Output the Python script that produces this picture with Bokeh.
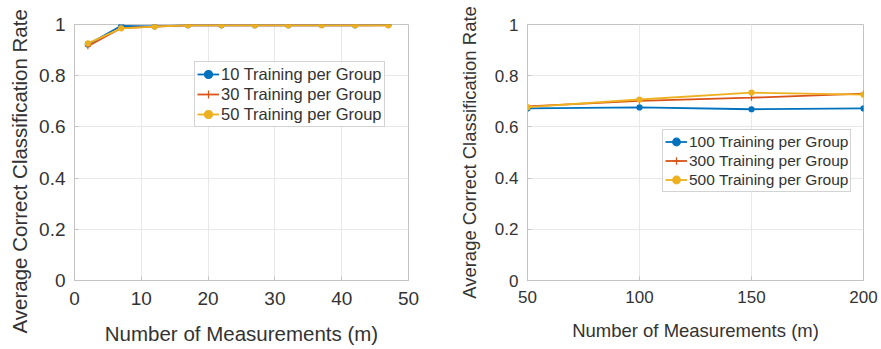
from bokeh.plotting import figure
from bokeh.layouts import row
from bokeh.models import Range1d, FixedTicker, Legend, LegendItem, Title
from bokeh.embed import file_html
from bokeh.resources import INLINE

# Left panel: small training sets, m = 2..47
m_small = [2, 7, 12, 17, 22, 27, 32, 37, 42, 47]
rate_10 = [0.922, 0.995, 0.993, 0.997, 0.997, 0.997, 0.997, 0.998, 0.997, 0.998]
rate_30 = [0.915, 0.986, 0.992, 0.997, 0.997, 0.997, 0.997, 0.997, 0.997, 0.997]
rate_50 = [0.926, 0.985, 0.992, 0.997, 0.997, 0.997, 0.997, 0.997, 0.997, 0.997]
labels_small = ["10 Training per Group", "30 Training per Group", "50 Training per Group"]

# Right panel: large training sets, m = 50..200
m_large = [50, 100, 150, 200]
rate_100 = [0.672, 0.676, 0.669, 0.672]
rate_300 = [0.680, 0.702, 0.714, 0.730]
rate_500 = [0.677, 0.707, 0.734, 0.726]
labels_large = ["100 Training per Group", "300 Training per Group", "500 Training per Group"]

y_ticks = [0, 0.2, 0.4, 0.6, 0.8, 1]
y_tick_labels = ["0", "0.2", "0.4", "0.6", "0.8", "1"]
x_ticks_small = [0, 10, 20, 30, 40, 50]
x_ticks_large = [50, 100, 150, 200]
x_title = "Number of Measurements (m)"
y_title = "Average Correct Classification Rate"

COLORS = ["#0072BD", "#D95319", "#EDB120"]
MARKERS = ["circle", "cross", "circle"]
FONT = "Liberation Sans"
TEXT = "#333333"
AXIS = "#c4c4c4"


def make_panel(xs, series, labels, x_range, x_ticks, width, borders,
               tick_size, label_size, legend_size, legend_loc, row_h,
               x_label_standoff, y_label_standoff, y_title_offset=None):
    left, right, top, bottom = borders
    p = figure(width=width, height=349, output_backend="svg", toolbar_location=None,
               x_range=Range1d(*x_range), y_range=Range1d(0, 1),
               min_border_left=left, min_border_right=right,
               min_border_top=top, min_border_bottom=bottom)
    p.background_fill_color = "white"
    p.border_fill_color = "white"
    p.outline_line_color = AXIS
    p.outline_line_width = 1

    p.xaxis.ticker = FixedTicker(ticks=x_ticks)
    p.yaxis.ticker = FixedTicker(ticks=y_ticks)
    p.yaxis.major_label_overrides = {t: s for t, s in zip(y_ticks, y_tick_labels)}
    p.xaxis.axis_label = x_title
    if y_title_offset is None:
        p.yaxis.axis_label = y_title

    for ax in (p.xaxis[0], p.yaxis[0]):
        ax.axis_line_color = AXIS
        ax.major_tick_line_color = AXIS
        ax.major_tick_in = 4
        ax.major_tick_out = 0
        ax.minor_tick_line_color = None
        ax.major_label_text_font = FONT
        ax.major_label_text_font_size = tick_size
        ax.major_label_text_color = TEXT
        ax.axis_label_text_font = FONT
        ax.axis_label_text_font_size = label_size
        ax.axis_label_text_color = TEXT
        ax.axis_label_text_font_style = "normal"
    p.xaxis.major_label_standoff = x_label_standoff[0]
    p.xaxis.axis_label_standoff = x_label_standoff[1]
    p.yaxis.major_label_standoff = y_label_standoff[0]
    p.yaxis.axis_label_standoff = y_label_standoff[1]

    # vertical title drawn as a side title so it can start below the frame
    if y_title_offset is not None:
        p.add_layout(Title(text=y_title, align="left", offset=y_title_offset,
                           text_font=FONT, text_font_size=label_size,
                           text_font_style="normal", text_color=TEXT,
                           standoff=y_label_standoff[1]), "left")

    p.xgrid.grid_line_color = "#e8e8e8"
    p.ygrid.grid_line_color = "#e8e8e8"

    items = []
    for ys, color, marker, label in zip(series, COLORS, MARKERS, labels):
        ln = p.line(xs, ys, line_color=color, line_width=1.8)
        sc = p.scatter(xs, ys, marker=marker, size=6 if marker == "cross" else 5,
                       fill_color=color, line_color=color, line_width=1.2)
        items.append(LegendItem(label=label, renderers=[ln, sc]))

    legend = Legend(items=items, location=legend_loc)
    legend.label_text_font = FONT
    legend.label_text_font_size = legend_size
    legend.label_text_color = TEXT
    legend.border_line_color = "#a8a8a8"
    legend.border_line_width = 1
    legend.background_fill_color = "white"
    legend.background_fill_alpha = 1
    legend.padding = 2
    legend.margin = 0
    legend.spacing = 0
    legend.label_height = row_h
    legend.glyph_height = row_h
    legend.glyph_width = 22
    legend.label_standoff = 2
    legend.label_text_baseline = "middle"
    p.add_layout(legend, "center")
    return p


left_panel = make_panel(m_small, [rate_10, rate_30, rate_50], labels_small,
                        (0, 50), x_ticks_small, 440, (72, 32, 24, 69),
                        "19px", "20.5px", "16.5px", (120, 153), 20,
                        (11, 14), (9, 11), y_title_offset=-53)
right_panel = make_panel(m_large, [rate_100, rate_300, rate_500], labels_large,
                         (50, 200), x_ticks_large, 441, (87, 18, 23, 64),
                         "17px", "18.5px", "15.5px", (135, 88), 19,
                         (10, 14), (9, 12))

layout = row(left_panel, right_panel)
open("out.html", "w").write(file_html(layout, INLINE))
